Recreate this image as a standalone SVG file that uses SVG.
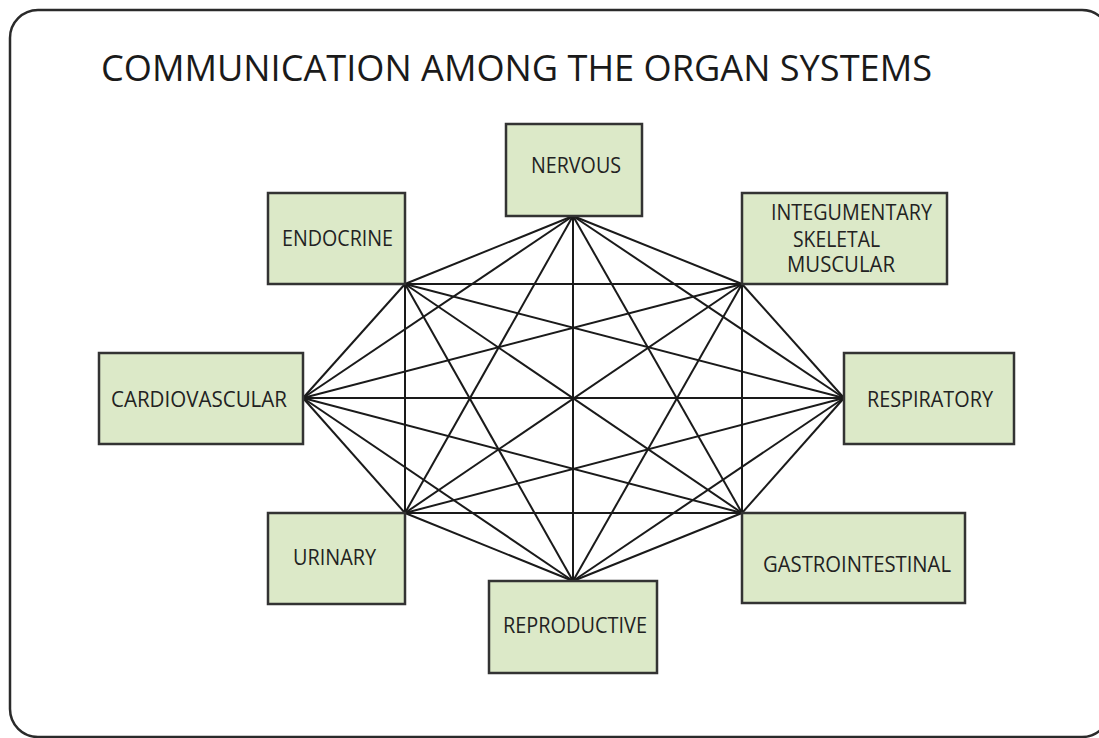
<svg xmlns="http://www.w3.org/2000/svg" width="1099" height="738" viewBox="0 0 1099 738">
<style>
.frame{fill:#fff;stroke:#2a2a2a;stroke-width:2.5}
.box{fill:#dce9c8;stroke:#333;stroke-width:2.5}
.lbl{font-family:"Open Sans","Liberation Sans",sans-serif;font-size:22px;fill:#222}
.title{font-family:"Open Sans","Liberation Sans",sans-serif;font-size:37px;fill:#1a1a1a}
.conn line{stroke:#1a1a1a;stroke-width:2}
</style>
<rect x="0" y="0" width="1099" height="738" fill="#fff"/>
<rect class="frame" x="10" y="10" width="1100" height="727" rx="28"/>
<text class="title" x="101" y="81" textLength="831" lengthAdjust="spacingAndGlyphs">COMMUNICATION AMONG THE ORGAN SYSTEMS</text>
<g id="connectors" class="conn">
<line x1="573" y1="216" x2="742" y2="284"/>
<line x1="573" y1="216" x2="844" y2="398"/>
<line x1="573" y1="216" x2="742" y2="513"/>
<line x1="573" y1="216" x2="573" y2="581"/>
<line x1="573" y1="216" x2="405" y2="513"/>
<line x1="573" y1="216" x2="303" y2="398"/>
<line x1="573" y1="216" x2="405" y2="284"/>
<line x1="742" y1="284" x2="844" y2="398"/>
<line x1="742" y1="284" x2="742" y2="513"/>
<line x1="742" y1="284" x2="573" y2="581"/>
<line x1="742" y1="284" x2="405" y2="513"/>
<line x1="742" y1="284" x2="303" y2="398"/>
<line x1="742" y1="284" x2="405" y2="284"/>
<line x1="844" y1="398" x2="742" y2="513"/>
<line x1="844" y1="398" x2="573" y2="581"/>
<line x1="844" y1="398" x2="405" y2="513"/>
<line x1="844" y1="398" x2="303" y2="398"/>
<line x1="844" y1="398" x2="405" y2="284"/>
<line x1="742" y1="513" x2="573" y2="581"/>
<line x1="742" y1="513" x2="405" y2="513"/>
<line x1="742" y1="513" x2="303" y2="398"/>
<line x1="742" y1="513" x2="405" y2="284"/>
<line x1="573" y1="581" x2="405" y2="513"/>
<line x1="573" y1="581" x2="303" y2="398"/>
<line x1="573" y1="581" x2="405" y2="284"/>
<line x1="405" y1="513" x2="303" y2="398"/>
<line x1="405" y1="513" x2="405" y2="284"/>
<line x1="303" y1="398" x2="405" y2="284"/>
</g>
<g id="nervous"><rect class="box" x="506" y="124" width="136" height="92"/><text class="lbl" x="531" y="173" textLength="90" lengthAdjust="spacingAndGlyphs">NERVOUS</text></g>
<g id="endocrine"><rect class="box" x="268" y="193" width="137" height="91"/><text class="lbl" x="282" y="246" textLength="111" lengthAdjust="spacingAndGlyphs">ENDOCRINE</text></g>
<g id="integumentary"><rect class="box" x="742" y="193" width="205" height="91"/>
<text class="lbl" x="771" y="220" textLength="161" lengthAdjust="spacingAndGlyphs">INTEGUMENTARY</text>
<text class="lbl" x="793" y="247" textLength="87" lengthAdjust="spacingAndGlyphs">SKELETAL</text>
<text class="lbl" x="787" y="272" textLength="108" lengthAdjust="spacingAndGlyphs">MUSCULAR</text></g>
<g id="cardiovascular"><rect class="box" x="99" y="353" width="204" height="91"/><text class="lbl" x="111" y="407" textLength="176" lengthAdjust="spacingAndGlyphs">CARDIOVASCULAR</text></g>
<g id="respiratory"><rect class="box" x="844" y="353" width="170" height="91"/><text class="lbl" x="867" y="407" textLength="126" lengthAdjust="spacingAndGlyphs">RESPIRATORY</text></g>
<g id="urinary"><rect class="box" x="268" y="513" width="137" height="91"/><text class="lbl" x="293" y="565" textLength="83" lengthAdjust="spacingAndGlyphs">URINARY</text></g>
<g id="reproductive"><rect class="box" x="489" y="581" width="168" height="92"/><text class="lbl" x="503" y="633" textLength="144" lengthAdjust="spacingAndGlyphs">REPRODUCTIVE</text></g>
<g id="gastrointestinal"><rect class="box" x="742" y="513" width="223" height="90"/><text class="lbl" x="763" y="572" textLength="188" lengthAdjust="spacingAndGlyphs">GASTROINTESTINAL</text></g>
</svg>
